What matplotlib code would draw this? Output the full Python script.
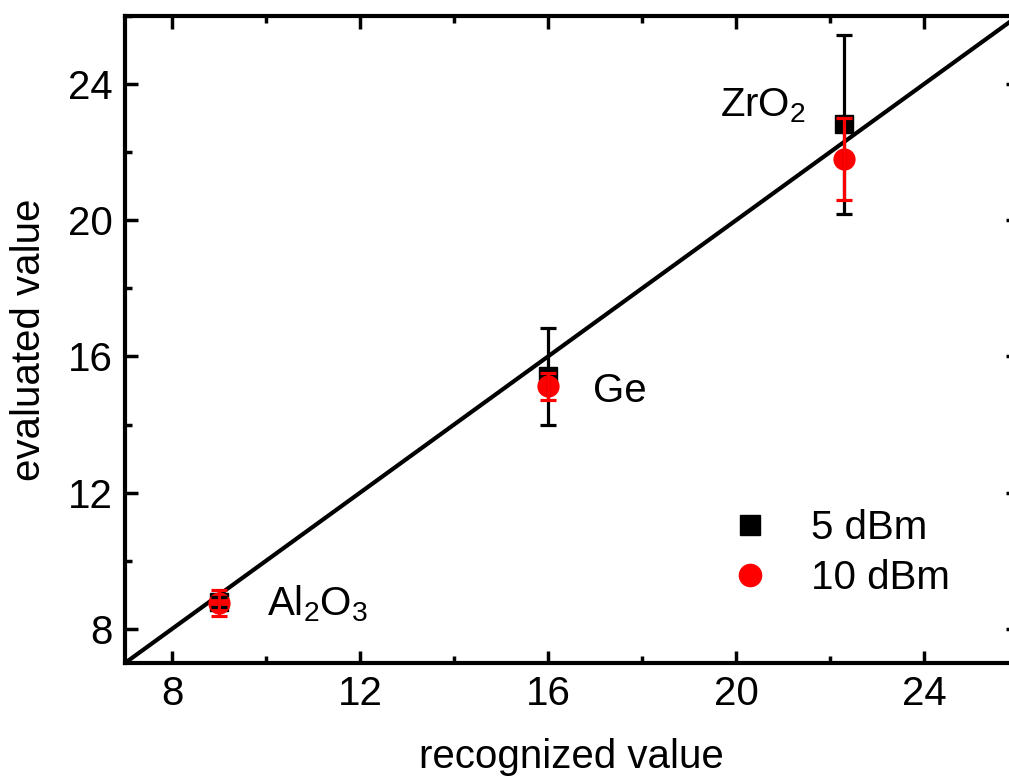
import numpy as np
import matplotlib
matplotlib.use("Agg")
import matplotlib.pyplot as plt
from matplotlib.lines import Line2D
from matplotlib.ticker import MultipleLocator

plt.rcParams['font.family'] = ['Liberation Sans', 'DejaVu Sans']
plt.rcParams['mathtext.fontset'] = 'custom'
plt.rcParams['mathtext.rm'] = 'Liberation Sans'

# recognized (reference) values of the three materials
materials = ['Al$_2$O$_3$', 'Ge', 'ZrO$_2$']
recognized = [9.0, 16.0, 22.3]

# evaluated values and errors
eval_5dbm = [8.8, 15.42, 22.82]
err_5dbm = [0.15, 1.43, 2.63]
eval_10dbm = [8.76, 15.12, 21.8]
err_10dbm = [0.37, 0.4, 1.2]

label_x = [10.02, 16.96, 19.66]
label_y = [8.41, 14.65, 23.06]

FS = 29

fig = plt.figure(figsize=(10.09, 7.82), dpi=100)
ax = fig.add_axes([0.1239, 0.1522, 0.885, 0.8274])

diag = np.array([7, 26])
ax.plot(diag, diag, color='black', lw=3, zorder=1)

ax.plot(recognized, eval_5dbm, 's', color='black', ms=13, zorder=2)
ax.plot(recognized, eval_10dbm, 'o', color='red', ms=16, mec='none', zorder=2)
ax.errorbar(recognized, eval_5dbm, yerr=err_5dbm, fmt='none', ecolor='black',
            elinewidth=2.3, capsize=6, capthick=2.3, zorder=3)
ax.errorbar(recognized, eval_10dbm, yerr=err_10dbm, fmt='none', ecolor='red',
            elinewidth=2.3, capsize=6, capthick=2.3, zorder=4)

for name, tx, ty in zip(materials, label_x, label_y):
    ax.text(tx, ty, name, fontsize=FS, ha='left', va='baseline')

ax.set_xlim(7, 26)
ax.set_ylim(7, 26)
ax.xaxis.set_minor_locator(MultipleLocator(2))
ax.yaxis.set_minor_locator(MultipleLocator(2))
ax.set_xticks([8, 12, 16, 20, 24])
ax.set_yticks([8, 12, 16, 20, 24])
ax.tick_params(which='both', direction='in', top=True, right=True, width=2.5,
               labelsize=FS)
ax.tick_params(which='major', length=9, pad=9)
ax.tick_params(which='minor', length=5)
for sp in ax.spines.values():
    sp.set_linewidth(3)

ax.set_xlabel('recognized value', fontsize=FS, labelpad=18)
ax.set_ylabel('evaluated value', fontsize=FS, labelpad=14)

handles = [Line2D([], [], ls='none', marker='s', color='black', ms=14),
           Line2D([], [], ls='none', marker='o', color='red', ms=16)]
ax.legend(handles, ['5 dBm', '10 dBm'], loc='upper left',
          bbox_to_anchor=(0.6775, 0.238), frameon=False, fontsize=FS,
          handlelength=1.0, handletextpad=1.0, labelspacing=0.3,
          borderpad=0, borderaxespad=0)

fig.savefig('out.png', dpi=100)
